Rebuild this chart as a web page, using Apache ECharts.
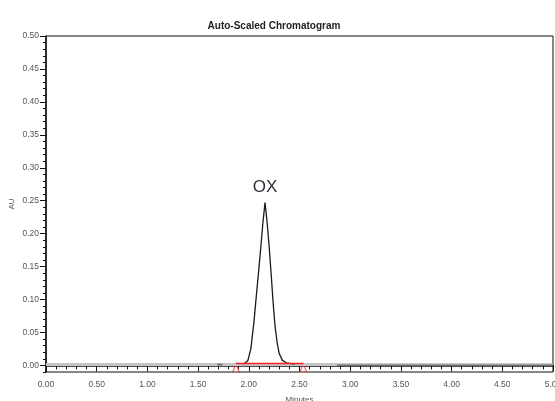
<!DOCTYPE html>
<html>
<head>
<meta charset="UTF-8">
<title>Auto-Scaled Chromatogram</title>
<script src="https://cdn.jsdelivr.net/npm/echarts@6/dist/echarts.min.js"></script>
<style>
    html, body { margin: 0; padding: 0; background: #fff; }
    #chart { width: 555px; height: 401px; }
</style>
</head>
<body>
<div id="chart"></div>
<script type="text/javascript">
    // data
    var peakName = 'OX';
    var traceTimes  = [1.95, 1.99, 2.02, 2.05, 2.08, 2.10, 2.12, 2.14, 2.16, 2.18, 2.20, 2.22, 2.24, 2.26, 2.28, 2.30, 2.33, 2.37, 2.45];
    var traceValues = [0.002, 0.007, 0.025, 0.065, 0.115, 0.148, 0.182, 0.218, 0.247, 0.218, 0.182, 0.140, 0.095, 0.058, 0.034, 0.018, 0.008, 0.004, 0.002];
    var apexIndex = 8;
    var baselineValue = 0.0015;
    var lightBaseTimes = [0, 2.87];
    var darkBaseTimes = [2.87, 5.0];
    var dashTimes = [1.69, 1.74];
    var integTimes = [1.874, 2.537];   // integration start / end
    var integValue = 0.003;
    var yLabelTicks = [0, 0.05, 0.10, 0.15, 0.20, 0.25, 0.30, 0.35, 0.40, 0.45, 0.50];

    var font = "'Liberation Sans', Arial, sans-serif";

    var traceData = traceTimes.map(function (t, i) {
        var p = { value: [t, traceValues[i]] };
        if (i === apexIndex) {
            p.label = {
                show: true, formatter: peakName, position: 'top', distance: 7,
                fontFamily: font, fontSize: 17, color: '#2a2f3a'
            };
        }
        return p;
    });

    function flat(times, v) {
        return times.map(function (t) { return [t, v]; });
    }

    var myChart = echarts.init(document.getElementById('chart'));

    option = {
        animation: false,
        backgroundColor: '#fff',
        title: {
            text: 'Auto-Scaled Chromatogram',
            left: 269,
            top: 16,
            textAlign: 'center',
            textStyle: { fontFamily: font, fontSize: 10, fontWeight: 'bold', color: '#222' }
        },
        grid: {
            left: 46, right: 2, top: 36, bottom: 29,
            containLabel: false,
            outerBoundsMode: 'none',
            show: true, borderColor: '#111', borderWidth: 1
        },
        xAxis: {
            type: 'value',
            min: 0, max: 5, interval: 0.5,
            name: 'Minutes',
            nameLocation: 'middle',
            nameGap: 24,
            nameTextStyle: { fontFamily: font, fontSize: 8, color: '#555' },
            splitLine: { show: false },
            axisLine: { lineStyle: { color: '#111', width: 1.5 } },
            axisTick: { length: 6, lineStyle: { color: '#111' } },
            minorTick: { show: true, splitNumber: 5, length: 4, lineStyle: { color: '#111' } },
            axisLabel: {
                margin: 8, fontFamily: font, fontSize: 8.5, color: '#555',
                formatter: function (v) { return v.toFixed(2); }
            }
        },
        yAxis: [{
            type: 'value',
            min: -0.01, max: 0.5, interval: 0.01,
            name: 'AU',
            nameLocation: 'middle',
            nameGap: 30,
            nameTextStyle: { fontFamily: font, fontSize: 8, color: '#555' },
            splitLine: { show: false },
            axisLine: { lineStyle: { color: '#111', width: 1.5 } },
            axisTick: { length: 3, lineStyle: { color: '#111' } },
            axisLabel: { show: false }
        }, {
            type: 'value',
            position: 'left',
            min: -0.01, max: 0.5,
            splitLine: { show: false },
            axisLine: { show: false },
            axisTick: { length: 6, customValues: yLabelTicks, lineStyle: { color: '#111' } },
            axisLabel: {
                customValues: yLabelTicks,
                margin: 7, fontFamily: font, fontSize: 8.5, color: '#555',
                formatter: function (v) { return v.toFixed(2); }
            }
        }],
        series: [{
            type: 'line', silent: true, symbol: 'none',
            data: flat(lightBaseTimes, baselineValue),
            lineStyle: { color: '#c4c4c4', width: 3 }
        }, {
            type: 'line', silent: true, symbol: 'none',
            data: flat(darkBaseTimes, baselineValue),
            lineStyle: { color: '#9a9a9a', width: 2 }
        }, {
            type: 'line', silent: true, symbol: 'none',
            data: flat(dashTimes, baselineValue),
            lineStyle: { color: '#666', width: 1.5 }
        }, {
            type: 'line', silent: true,
            symbol: 'circle', symbolSize: 0.1, showSymbol: true,
            data: traceData,
            lineStyle: { color: '#1a1a1a', width: 1.3 },
            itemStyle: { color: '#1a1a1a' }
        }, {
            type: 'line', silent: true, symbol: 'none',
            data: flat(integTimes, integValue),
            lineStyle: { color: '#ff2020', width: 1.5 }
        }, {
            type: 'scatter', silent: true,
            symbol: 'path://M0,10 L5,0 L10,10',
            symbolSize: [7, 9],
            symbolOffset: [0, 4.5],
            data: flat(integTimes, integValue),
            itemStyle: { color: 'none', borderColor: '#ff2020', borderWidth: 1.2 }
        }]
    };
    myChart.setOption(option);
</script>
</body>
</html>
